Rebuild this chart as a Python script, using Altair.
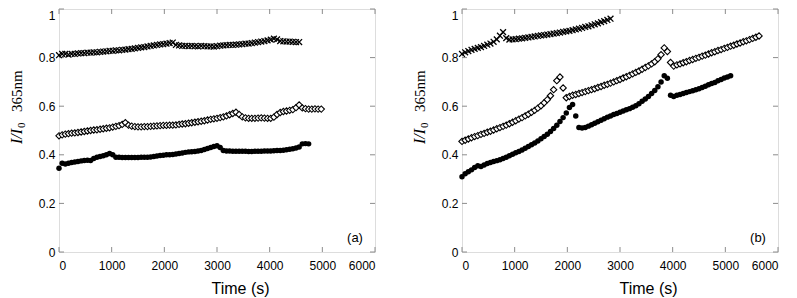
import altair as alt
import pandas as pd

# ---------------- data ----------------
TIME = [0, 60, 120, 180, 240, 300, 360, 420, 480, 540, 600, 660, 720, 780, 840, 900,
        960, 1020, 1080, 1140, 1200, 1260, 1320, 1380, 1440, 1500, 1560, 1620, 1680,
        1740, 1800, 1860, 1920, 1980, 2040, 2100, 2160, 2220, 2280, 2340, 2400, 2460,
        2520, 2580, 2640, 2700, 2760, 2820, 2880, 2940, 3000, 3060, 3120, 3180, 3240,
        3300, 3360, 3420, 3480, 3540, 3600, 3660, 3720, 3780, 3840, 3900, 3960, 4020,
        4080, 4140, 4200, 4260, 4320, 4380, 4440, 4500, 4560, 4620, 4680, 4740, 4800,
        4860, 4920, 4980, 5040, 5100, 5160, 5220, 5280, 5340, 5400, 5460, 5520, 5580, 5640]

# panel (a)
A_CROSS = [0.81, 0.815, 0.815, 0.812, 0.815, 0.815, 0.817, 0.818, 0.818, 0.82, 0.82, 0.822,
           0.822, 0.824, 0.825, 0.826, 0.828, 0.828, 0.83, 0.83, 0.832, 0.833, 0.835, 0.836,
           0.838, 0.84, 0.842, 0.843, 0.846, 0.848, 0.85, 0.852, 0.854, 0.855, 0.857, 0.86,
           0.862, 0.852, 0.85, 0.848, 0.848, 0.847, 0.848, 0.847, 0.846, 0.848, 0.847, 0.846,
           0.846, 0.845, 0.847, 0.849, 0.85, 0.851, 0.852, 0.852, 0.853, 0.854, 0.855, 0.857,
           0.858, 0.86, 0.862, 0.864, 0.866, 0.868, 0.871, 0.874, 0.878, 0.875, 0.868, 0.867,
           0.866, 0.866, 0.865, 0.864, 0.864]
A_DIAMOND = [0.478, 0.482, 0.485, 0.487, 0.489, 0.49, 0.492, 0.494, 0.496, 0.498, 0.5, 0.502,
             0.503, 0.505, 0.507, 0.509, 0.511, 0.514, 0.517, 0.52, 0.525, 0.532, 0.522, 0.518,
             0.516, 0.515, 0.515, 0.516, 0.516, 0.517, 0.518, 0.519, 0.52, 0.521, 0.521, 0.522,
             0.522, 0.523, 0.525, 0.527, 0.528, 0.53, 0.532, 0.534, 0.536, 0.538, 0.54, 0.543,
             0.546, 0.548, 0.55, 0.553, 0.556, 0.56, 0.565, 0.57, 0.575, 0.566, 0.556, 0.552,
             0.55, 0.55, 0.55, 0.551, 0.552, 0.551, 0.55, 0.55, 0.555, 0.566, 0.574, 0.578,
             0.58, 0.583, 0.586, 0.594, 0.605, 0.593, 0.59, 0.588, 0.588, 0.589, 0.588, 0.588]
A_CIRCLE = [0.345, 0.365, 0.362, 0.365, 0.368, 0.37, 0.372, 0.375, 0.377, 0.378, 0.377, 0.385,
            0.39, 0.393, 0.396, 0.4, 0.405, 0.4, 0.39, 0.39, 0.389, 0.389, 0.389, 0.389,
            0.389, 0.389, 0.39, 0.39, 0.39, 0.391, 0.393, 0.395, 0.397, 0.398, 0.4, 0.4,
            0.401, 0.403, 0.405, 0.407, 0.41, 0.412, 0.413, 0.414, 0.416, 0.418, 0.422, 0.426,
            0.43, 0.434, 0.437, 0.43, 0.418, 0.416, 0.416, 0.415, 0.415, 0.415, 0.415, 0.415,
            0.414, 0.414, 0.415, 0.415, 0.415, 0.416, 0.416, 0.416, 0.417, 0.418, 0.418, 0.419,
            0.421, 0.423, 0.425, 0.428, 0.432, 0.445, 0.446, 0.445]

# panel (b)
B_CROSS = [0.815, 0.822, 0.827, 0.832, 0.836, 0.84, 0.843, 0.848, 0.853, 0.858, 0.865, 0.875,
           0.89, 0.905, 0.88, 0.874, 0.875, 0.876, 0.878, 0.879, 0.881, 0.883, 0.885, 0.887,
           0.889, 0.891, 0.893, 0.895, 0.897, 0.899, 0.901, 0.903, 0.906, 0.908, 0.91, 0.913,
           0.916, 0.919, 0.922, 0.926, 0.929, 0.933, 0.937, 0.941, 0.946, 0.95, 0.955, 0.96]
B_DIAMOND = [0.455, 0.46, 0.465, 0.47, 0.475, 0.479, 0.484, 0.488, 0.493, 0.497, 0.502, 0.507,
             0.512, 0.517, 0.522, 0.528, 0.534, 0.54, 0.547, 0.553, 0.56, 0.567, 0.575, 0.583,
             0.592, 0.602, 0.614, 0.627, 0.643, 0.668, 0.705, 0.72, 0.675, 0.635, 0.64, 0.645,
             0.648, 0.652, 0.656, 0.66, 0.664, 0.668, 0.672, 0.677, 0.681, 0.686, 0.69, 0.695,
             0.7, 0.705, 0.71, 0.716, 0.721, 0.727, 0.733, 0.739, 0.745, 0.752, 0.759, 0.766,
             0.774, 0.783, 0.795, 0.812, 0.84, 0.825, 0.78, 0.765, 0.77, 0.774, 0.779, 0.783,
             0.788, 0.792, 0.797, 0.801, 0.806, 0.81, 0.815, 0.82, 0.824, 0.829, 0.833, 0.838,
             0.842, 0.847, 0.851, 0.856, 0.86, 0.865, 0.869, 0.874, 0.879, 0.884, 0.889]
B_CIRCLE = [0.31, 0.322, 0.33, 0.338, 0.348, 0.355, 0.352, 0.358, 0.364, 0.368, 0.372, 0.376,
            0.38, 0.385, 0.39, 0.396, 0.402, 0.408, 0.414, 0.42, 0.427, 0.434, 0.441, 0.449,
            0.457, 0.466, 0.475, 0.485, 0.496, 0.508, 0.522, 0.537, 0.553, 0.572, 0.595, 0.607,
            0.56, 0.512, 0.51, 0.512, 0.518, 0.524, 0.53, 0.536, 0.542, 0.548, 0.555, 0.56,
            0.566, 0.57, 0.575, 0.58, 0.585, 0.59, 0.596, 0.602, 0.61, 0.62, 0.63, 0.64,
            0.652, 0.665, 0.68, 0.7, 0.725, 0.715, 0.645, 0.64, 0.645, 0.648, 0.652, 0.656,
            0.66, 0.664, 0.668, 0.672, 0.677, 0.682, 0.688, 0.693, 0.698, 0.705, 0.71, 0.716,
            0.72, 0.725]

X_TICKS = [0, 1000, 2000, 3000, 4000, 5000, 6000]
Y_TICKS = [0, 0.2, 0.4, 0.6, 0.8, 1.0]
PANEL_LABELS = ["(a)", "(b)"]
X_TITLE = "Time (s)"
Y_TITLE_PARTS = ["I/I", "0", "365nm"]

# ---------------- styling ----------------
W, H = 316, 243
GREY = "#8c8c8c"
SANS = "Liberation Sans"
SERIF = "Liberation Serif"
TICK = 5


def series_df(vals):
    return pd.DataFrame({"t": TIME[:len(vals)], "v": vals})


def panel(cross, diamond, circle, label, title_x):
    xs = alt.Scale(domain=[0, 6000], nice=False, zero=False)
    ys = alt.Scale(domain=[0, 1], nice=False, zero=False)
    xax = alt.Axis(values=X_TICKS, format="d", ticks=False, domain=False, grid=False,
                   labelFont=SANS, labelFontSize=12, labelColor="black", labelPadding=8,
                   title=X_TITLE, titleFont=SANS, titleFontSize=16, titleFontWeight="normal",
                   titleColor="black", titleX=title_x, titleY=28, titleAlign="center",
                   titleBaseline="top")
    yax = alt.Axis(values=Y_TICKS, format="~g", ticks=False, domain=False, grid=False,
                   labelFont=SANS, labelFontSize=12, labelColor="black", labelPadding=4,
                   labelOffset={"expr": "datum.value == 1 ? 6 : 0"},
                   title=None)
    X = lambda f: alt.X(f, type="quantitative", scale=xs, axis=xax)
    Y = lambda f: alt.Y(f, type="quantitative", scale=ys, axis=yax)

    crosses = alt.Chart(series_df(cross)).mark_point(
        shape="M-1,-1L1,1M-1,1L1,-1", size=34, filled=False, stroke="black",
        strokeWidth=1.3, opacity=1
    ).encode(x=X("t"), y=Y("v"))
    diamonds = alt.Chart(series_df(diamond)).mark_point(
        shape="diamond", size=40, filled=True, fill="white", stroke="black",
        strokeWidth=1.1, opacity=1
    ).encode(x=X("t"), y=Y("v"))
    circles = alt.Chart(series_df(circle)).mark_point(
        shape="circle", size=30, filled=True, color="black", opacity=1
    ).encode(x=X("t"), y=Y("v"))

    xt = pd.DataFrame({"x": X_TICKS})
    yt = pd.DataFrame({"y": Y_TICKS})
    rule = dict(color=GREY, strokeWidth=1)
    t_bottom = alt.Chart(xt).mark_rule(**rule).encode(
        x=X("x"), y=alt.value(H), y2=alt.value(H - TICK))
    t_top = alt.Chart(xt).mark_rule(**rule).encode(
        x=X("x"), y=alt.value(0), y2=alt.value(TICK))
    t_left = alt.Chart(yt).mark_rule(**rule).encode(
        y=Y("y"), x=alt.value(0), x2=alt.value(TICK))
    t_right = alt.Chart(yt).mark_rule(**rule).encode(
        y=Y("y"), x=alt.value(W), x2=alt.value(W - TICK))

    one = lambda s: pd.DataFrame({"s": [s]})
    base_y = -37
    y_i = alt.Chart(one(Y_TITLE_PARTS[0])).mark_text(
        font=SERIF, fontStyle="italic", fontSize=16, angle=270, align="left",
        baseline="alphabetic", color="black"
    ).encode(text="s:N", x=alt.value(base_y), y=alt.value(135))
    y_0 = alt.Chart(one(Y_TITLE_PARTS[1])).mark_text(
        font=SERIF, fontSize=11, angle=270, align="left",
        baseline="alphabetic", color="black"
    ).encode(text="s:N", x=alt.value(base_y + 3), y=alt.value(119))
    y_nm = alt.Chart(one(Y_TITLE_PARTS[2])).mark_text(
        font=SERIF, fontSize=15, angle=270, align="left",
        baseline="alphabetic", color="black"
    ).encode(text="s:N", x=alt.value(base_y), y=alt.value(103))

    lab = alt.Chart(one(label)).mark_text(
        font=SANS, fontSize=13, align="center", baseline="middle", color="black"
    ).encode(text="s:N", x=alt.value(W - 20), y=alt.value(H - 14))

    return alt.layer(t_bottom, t_top, t_left, t_right, crosses, diamonds, circles,
                     y_i, y_0, y_nm, lab).properties(width=W, height=H)


pa = panel(A_CROSS, A_DIAMOND, A_CIRCLE, PANEL_LABELS[0], 181)
pb = panel(B_CROSS, B_DIAMOND, B_CIRCLE, PANEL_LABELS[1], 186)

chart = alt.hconcat(pa, pb, spacing=35).properties(
    padding={"left": 0, "top": 0, "right": 0, "bottom": 0}
).configure_view(stroke=GREY, strokeWidth=1.5).configure(background="white")

chart.save("out.html", embed_options={"renderer": "svg", "actions": False})
